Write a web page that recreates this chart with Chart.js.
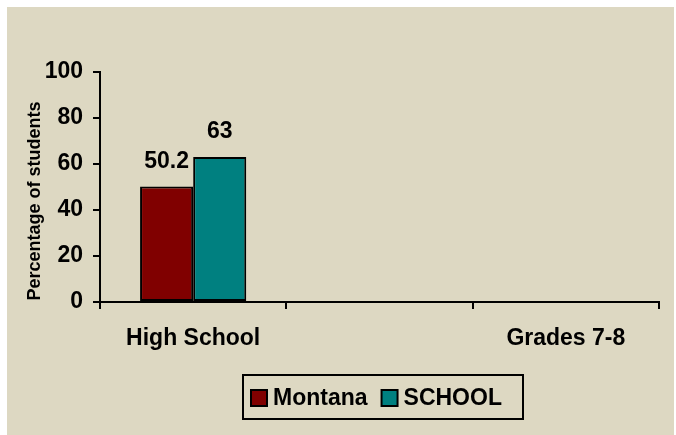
<!DOCTYPE html>
<html>
<head>
<meta charset="utf-8">
<script src="https://cdn.jsdelivr.net/npm/chart.js@4/dist/chart.umd.min.js"></script>
<style>
  html, body { margin: 0; padding: 0; background: #ffffff; }
  #wrap { position: relative; width: 676px; height: 435px; }
</style>
</head>
<body>
<div id="wrap"><canvas id="chart" width="676" height="435"></canvas></div>
<script>
// Categories along the x axis (the middle slot is an empty spacer)
const categories = ['High School', '', 'Grades 7-8'];

// Series values (percentage of students)
const montanaValues = [50.2, null, null];
const schoolValues = [63, null, null];

// Y axis ticks
const yTicks = [0, 20, 40, 60, 80, 100];

const seriesNames = ['Montana', 'SCHOOL'];
const seriesColors = ['#800000', '#008080'];

const FONT_FAMILY = "Arial, 'Liberation Sans', sans-serif";
const PANEL_BG = '#ddd8c2';

// Beige panel behind the whole chart
const panelBackground = {
  id: 'panelBackground',
  beforeDraw(chart) {
    const ctx = chart.ctx;
    ctx.save();
    ctx.fillStyle = '#ffffff';
    ctx.fillRect(0, 0, chart.width, chart.height);
    ctx.fillStyle = PANEL_BG;
    ctx.fillRect(7, 7, 667, chart.height - 7);
    ctx.restore();
  }
};

// Value labels above each bar
const valueLabels = {
  id: 'valueLabels',
  afterDatasetsDraw(chart) {
    const ctx = chart.ctx;
    ctx.save();
    ctx.font = 'bold 23px ' + FONT_FAMILY;
    ctx.fillStyle = '#000000';
    ctx.textAlign = 'center';
    ctx.textBaseline = 'alphabetic';
    chart.data.datasets.forEach((ds, di) => {
      const meta = chart.getDatasetMeta(di);
      meta.data.forEach((bar, i) => {
        const v = ds.data[i];
        if (v === null || v === undefined) return;
        ctx.fillText(String(v), bar.x, bar.y - 19);
      });
    });
    ctx.restore();
  }
};

// Rotated y axis title
const yTitle = {
  id: 'yTitle',
  afterDraw(chart) {
    const ctx = chart.ctx;
    ctx.save();
    ctx.translate(35, 201);
    ctx.rotate(-Math.PI / 2);
    ctx.font = 'bold 18px ' + FONT_FAMILY;
    ctx.fillStyle = '#000000';
    ctx.textAlign = 'center';
    ctx.textBaseline = 'middle';
    ctx.fillText('Percentage of students', 0, 0);
    ctx.restore();
  }
};

// Boxed legend below the plot
const boxedLegend = {
  id: 'boxedLegend',
  afterDraw(chart) {
    const ctx = chart.ctx;
    ctx.save();
    ctx.font = 'bold 23px ' + FONT_FAMILY;
    const marker = 16, gapText = 6, gapItem = 14, padL = 8, padR = 16;
    const items = chart.data.datasets.map(ds => ({
      label: ds.label, color: ds.backgroundColor, w: ctx.measureText(ds.label).width
    }));
    let content = 0;
    items.forEach((it, i) => {
      content += marker + gapText + it.w + (i < items.length - 1 ? gapItem : 0);
    });
    const boxW = content + padL + padR;
    const boxH = 44;
    const boxX = 243;
    const boxY = 375;
    ctx.lineWidth = 2;
    ctx.strokeStyle = '#000000';
    ctx.strokeRect(boxX, boxY, Math.max(boxW, 280), boxH);
    let x = boxX + padL;
    const midY = boxY + boxH / 2;
    items.forEach(it => {
      ctx.fillStyle = it.color;
      ctx.fillRect(x, midY - marker / 2 + 1, marker, marker);
      ctx.lineWidth = 2;
      ctx.strokeStyle = '#000000';
      ctx.strokeRect(x, midY - marker / 2 + 1, marker, marker);
      x += marker + gapText;
      ctx.fillStyle = '#000000';
      ctx.textAlign = 'left';
      ctx.textBaseline = 'middle';
      ctx.fillText(it.label, x, midY + 2);
      x += it.w + gapItem;
    });
    ctx.restore();
  }
};

new Chart(document.getElementById('chart'), {
  type: 'bar',
  data: {
    labels: categories,
    datasets: [
      {
        label: seriesNames[0],
        data: montanaValues,
        backgroundColor: seriesColors[0],
        borderColor: '#000000',
        borderWidth: 2,
        borderSkipped: false
      },
      {
        label: seriesNames[1],
        data: schoolValues,
        backgroundColor: seriesColors[1],
        borderColor: '#000000',
        borderWidth: 2,
        borderSkipped: false
      }
    ]
  },
  options: {
    responsive: false,
    animation: false,
    devicePixelRatio: 1,
    layout: { padding: { left: 0, top: 72, right: 17, bottom: 0 } },
    plugins: {
      legend: { display: false },
      tooltip: { enabled: false }
    },
    datasets: {
      bar: { categoryPercentage: 0.57, barPercentage: 1.0 }
    },
    scales: {
      x: {
        offset: true,
        afterFit(scale) { scale.height = 133; },
        border: { display: true, color: '#000000', width: 2 },
        grid: {
          offset: true,
          drawOnChartArea: false,
          drawTicks: true,
          tickLength: 7,
          color: '#000000',
          lineWidth: 2
        },
        ticks: {
          color: '#000000',
          padding: 16,
          maxRotation: 0,
          autoSkip: false,
          font: { family: FONT_FAMILY, size: 23, weight: 'bold' }
        }
      },
      y: {
        min: 0,
        max: 100,
        afterFit(scale) { scale.width = 100; },
        afterBuildTicks(scale) { scale.ticks = yTicks.map(v => ({ value: v })); },
        border: { display: true, color: '#000000', width: 2 },
        grid: {
          drawOnChartArea: false,
          drawTicks: true,
          tickLength: 7,
          color: '#000000',
          lineWidth: 2
        },
        ticks: {
          color: '#000000',
          padding: 10,
          font: { family: FONT_FAMILY, size: 23, weight: 'bold' }
        }
      }
    }
  },
  plugins: [panelBackground, valueLabels, yTitle, boxedLegend]
});
</script>
</body>
</html>
